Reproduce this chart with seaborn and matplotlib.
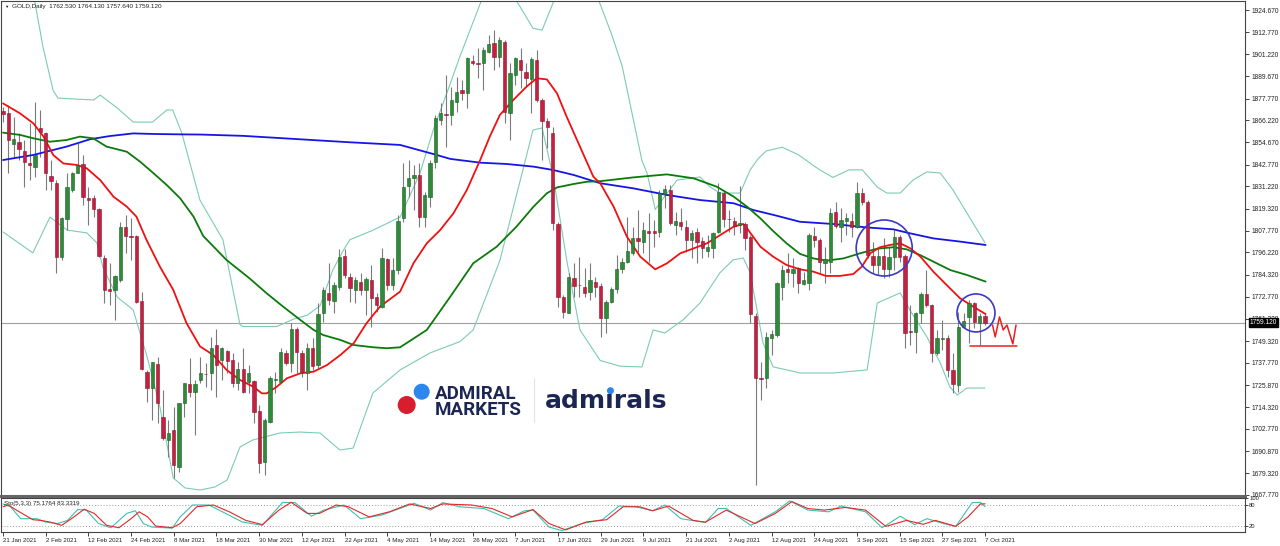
import numpy as np
import pandas as pd
import matplotlib
matplotlib.use('Agg')
import matplotlib.pyplot as plt
from matplotlib.patches import Circle
import matplotlib.transforms as mtransforms
import seaborn as sns

# daily candles, 21 Jan 2021 .. 7 Oct 2021
opens = [1871.3, 1869.9, 1853.7, 1854.9, 1850.0, 1843.8, 1841.7, 1862.0, 1859.7, 1836.7,
         1833.2, 1794.0, 1813.8, 1829.3, 1838.5, 1843.1, 1825.1, 1825.3, 1819.1, 1793.5,
         1776.7, 1776.4, 1781.6, 1809.5, 1805.1, 1805.1, 1770.5, 1732.7, 1724.6, 1737.2,
         1709.3, 1696.9, 1702.2, 1682.8, 1716.3, 1726.6, 1722.5, 1728.7, 1731.8, 1732.2,
         1747.2, 1739.3, 1744.0, 1739.3, 1726.9, 1734.3, 1727.8, 1728.3, 1712.3, 1685.4,
         1706.6, 1728.7, 1727.8, 1742.8, 1737.8, 1755.5, 1743.2, 1732.2, 1745.5, 1736.6,
         1764.0, 1774.6, 1770.7, 1778.1, 1794.4, 1783.4, 1776.3, 1780.8, 1776.3, 1781.6,
         1772.8, 1767.5, 1792.6, 1779.0, 1786.9, 1814.3, 1831.5, 1835.5, 1837.3, 1815.2,
         1825.8, 1844.3, 1866.4, 1869.6, 1869.1, 1876.1, 1882.3, 1880.5, 1897.8, 1896.4,
         1896.4, 1902.6, 1907.4, 1899.6, 1907.7, 1870.3, 1890.2, 1898.2, 1892.0, 1887.9,
         1898.2, 1877.0, 1866.0, 1859.3, 1811.1, 1772.8, 1764.3, 1782.5, 1779.0, 1778.1,
         1775.5, 1780.4, 1778.5, 1761.3, 1770.2, 1776.7, 1787.3, 1791.4, 1795.8, 1803.7,
         1801.9, 1807.6, 1807.6, 1807.3, 1827.2, 1829.3, 1810.8, 1812.6, 1809.5, 1802.8,
         1806.9, 1802.5, 1797.2, 1798.4, 1807.3, 1827.6, 1814.0, 1813.1, 1810.8, 1811.3,
         1804.6, 1762.6, 1729.7, 1729.6, 1750.7, 1752.5, 1778.1, 1787.5, 1785.2, 1787.8,
         1779.5, 1779.9, 1805.1, 1802.8, 1790.8, 1791.4, 1817.9, 1809.5, 1813.1, 1813.1,
         1809.5, 1827.9, 1823.1, 1794.3, 1789.6, 1794.3, 1787.3, 1793.7, 1804.3, 1794.3,
         1754.5, 1754.3, 1764.0, 1774.2, 1768.4, 1743.2, 1750.6, 1750.8, 1734.0, 1726.0,
         1756.9, 1762.2, 1769.6, 1759.1, 1762.53]
highs = [1873.5, 1874.3, 1868.2, 1859.3, 1855.8, 1864.6, 1876.1, 1871.7, 1860.2, 1845.2,
         1834.6, 1815.2, 1838.2, 1839.0, 1854.0, 1847.9, 1831.1, 1826.7, 1819.6, 1794.9,
         1790.5, 1784.3, 1812.5, 1816.1, 1814.3, 1805.5, 1775.5, 1734.0, 1738.4, 1741.0,
         1723.4, 1707.5, 1714.6, 1716.3, 1726.9, 1740.2, 1728.7, 1741.0, 1737.5, 1751.6,
         1755.5, 1746.3, 1744.6, 1742.8, 1738.4, 1745.5, 1736.6, 1728.7, 1715.4, 1708.4,
         1730.8, 1733.1, 1745.5, 1744.6, 1758.7, 1757.0, 1744.6, 1748.1, 1750.7, 1769.6,
         1778.1, 1790.5, 1780.8, 1797.9, 1797.9, 1785.2, 1783.4, 1785.2, 1783.4, 1789.6,
         1774.6, 1798.4, 1793.1, 1793.1, 1816.0, 1843.5, 1845.2, 1842.6, 1843.5, 1828.4,
         1845.2, 1869.1, 1875.2, 1890.2, 1884.1, 1889.4, 1887.6, 1900.0, 1900.8, 1904.4,
         1905.3, 1911.4, 1914.1, 1910.5, 1908.8, 1896.4, 1900.0, 1904.4, 1896.4, 1900.0,
         1903.5, 1877.9, 1867.3, 1862.9, 1812.5, 1773.7, 1785.2, 1790.5, 1794.0, 1787.8,
         1790.5, 1783.4, 1779.9, 1771.1, 1778.1, 1794.9, 1793.1, 1815.2, 1809.9, 1818.7,
         1812.5, 1817.0, 1813.4, 1829.3, 1832.0, 1832.0, 1817.9, 1819.6, 1813.4, 1808.1,
         1809.0, 1804.6, 1805.5, 1807.3, 1832.9, 1829.3, 1818.7, 1815.2, 1831.4, 1812.6,
         1805.5, 1764.0, 1738.4, 1754.3, 1755.2, 1780.8, 1789.6, 1795.8, 1793.1, 1788.7,
         1786.1, 1806.4, 1809.9, 1803.7, 1799.3, 1819.6, 1823.1, 1819.6, 1817.0, 1817.0,
         1833.7, 1830.2, 1824.0, 1801.9, 1798.4, 1803.7, 1799.3, 1808.1, 1805.5, 1795.4,
         1768.4, 1764.9, 1775.5, 1786.9, 1768.9, 1755.2, 1760.5, 1752.5, 1742.8, 1764.9,
         1764.0, 1771.1, 1770.2, 1764.0, 1764.13]
lows = [1865.5, 1838.2, 1847.0, 1845.2, 1831.1, 1834.6, 1836.4, 1847.0, 1829.3, 1829.3,
        1785.2, 1792.2, 1808.1, 1828.4, 1838.2, 1821.4, 1810.8, 1815.2, 1794.0, 1769.3,
        1768.4, 1760.5, 1780.8, 1795.8, 1792.2, 1769.3, 1734.0, 1717.2, 1707.5, 1705.7,
        1696.9, 1688.1, 1676.6, 1680.1, 1709.3, 1719.8, 1699.5, 1726.9, 1725.2, 1723.4,
        1719.8, 1728.7, 1732.2, 1725.1, 1723.4, 1721.6, 1721.6, 1705.7, 1679.2, 1678.3,
        1705.7, 1721.6, 1726.9, 1736.6, 1733.1, 1732.2, 1730.4, 1723.4, 1734.0, 1734.9,
        1759.6, 1768.4, 1764.0, 1776.3, 1782.5, 1770.2, 1769.3, 1773.7, 1763.1, 1757.0,
        1764.9, 1766.6, 1776.3, 1776.3, 1785.0, 1812.6, 1825.8, 1818.7, 1809.9, 1809.9,
        1820.5, 1840.8, 1863.8, 1852.3, 1863.8, 1870.8, 1877.0, 1872.6, 1895.5, 1888.5,
        1882.3, 1902.1, 1892.9, 1894.7, 1864.6, 1855.8, 1884.9, 1883.2, 1884.1, 1869.9,
        1876.1, 1845.2, 1851.4, 1808.1, 1767.5, 1761.4, 1764.0, 1772.8, 1772.8, 1772.8,
        1771.0, 1772.8, 1751.6, 1753.4, 1769.3, 1774.6, 1785.2, 1790.5, 1794.9, 1796.7,
        1795.8, 1791.4, 1799.3, 1804.6, 1819.6, 1810.8, 1805.5, 1808.1, 1796.7, 1793.1,
        1790.5, 1793.1, 1794.0, 1793.1, 1806.4, 1809.9, 1807.3, 1805.5, 1806.4, 1797.5,
        1758.7, 1673.1, 1718.1, 1724.3, 1741.9, 1751.6, 1771.1, 1779.9, 1778.1, 1774.6,
        1779.0, 1776.3, 1799.3, 1785.2, 1779.9, 1785.2, 1809.0, 1802.0, 1805.5, 1804.6,
        1809.0, 1821.4, 1793.1, 1785.2, 1784.3, 1782.5, 1783.4, 1786.9, 1791.4, 1745.5,
        1747.2, 1742.8, 1758.7, 1767.5, 1738.4, 1741.9, 1744.6, 1730.4, 1721.6, 1722.5,
        1756.6, 1748.1, 1756.1, 1747.2, 1757.64]
closes = [1869.6, 1855.8, 1856.2, 1850.9, 1844.3, 1842.6, 1847.9, 1860.2, 1838.2, 1834.3,
          1794.0, 1814.7, 1830.7, 1838.5, 1842.6, 1825.8, 1824.0, 1819.1, 1794.5, 1776.4,
          1775.8, 1783.8, 1809.9, 1805.1, 1804.6, 1770.2, 1734.3, 1724.6, 1738.4, 1716.3,
          1697.8, 1700.8, 1683.6, 1716.3, 1726.9, 1722.5, 1726.6, 1732.2, 1731.6, 1745.5,
          1736.6, 1745.5, 1738.9, 1726.9, 1734.3, 1722.1, 1732.2, 1711.9, 1684.9, 1707.5,
          1729.6, 1729.0, 1743.7, 1737.8, 1755.5, 1743.7, 1733.1, 1745.5, 1736.1, 1763.6,
          1776.3, 1771.0, 1779.0, 1794.0, 1784.3, 1777.2, 1781.6, 1776.3, 1782.0, 1771.9,
          1768.4, 1793.1, 1779.0, 1786.9, 1813.0, 1831.1, 1835.5, 1837.3, 1815.2, 1826.7,
          1843.5, 1867.3, 1869.9, 1869.1, 1877.0, 1881.4, 1880.9, 1899.1, 1896.4, 1896.2,
          1903.5, 1906.7, 1900.0, 1908.8, 1870.8, 1891.1, 1899.1, 1892.9, 1888.5, 1898.5,
          1877.0, 1866.0, 1862.9, 1811.7, 1772.8, 1764.9, 1783.4, 1778.5, 1778.8, 1774.9,
          1781.7, 1778.1, 1761.3, 1770.2, 1776.7, 1787.3, 1791.4, 1797.2, 1803.7, 1802.3,
          1808.1, 1806.4, 1806.4, 1827.6, 1829.7, 1811.7, 1813.1, 1810.3, 1802.8, 1806.4,
          1802.0, 1798.4, 1799.0, 1806.7, 1828.4, 1813.8, 1813.8, 1810.3, 1812.0, 1803.7,
          1763.6, 1729.6, 1729.4, 1751.6, 1752.9, 1779.9, 1787.0, 1786.1, 1787.5, 1779.9,
          1781.6, 1805.5, 1802.8, 1791.4, 1792.6, 1817.0, 1810.3, 1813.4, 1814.3, 1809.9,
          1827.6, 1823.1, 1794.9, 1789.6, 1794.3, 1787.3, 1794.0, 1804.6, 1793.7, 1753.4,
          1754.1, 1764.4, 1774.2, 1768.4, 1743.2, 1750.8, 1751.0, 1734.0, 1726.6, 1756.9,
          1760.1, 1769.3, 1759.6, 1762.6, 1759.12]

tick_labels = ['21 Jan 2021', '2 Feb 2021', '12 Feb 2021', '24 Feb 2021', '8 Mar 2021',
               '18 Mar 2021', '30 Mar 2021', '12 Apr 2021', '22 Apr 2021', '4 May 2021',
               '14 May 2021', '26 May 2021', '7 Jun 2021', '17 Jun 2021', '29 Jun 2021',
               '9 Jul 2021', '21 Jul 2021', '2 Aug 2021', '12 Aug 2021', '24 Aug 2021',
               '3 Sep 2021', '15 Sep 2021', '27 Sep 2021', '7 Oct 2021']
price_ticks = [1924.67, 1912.77, 1901.22, 1889.67, 1877.77, 1866.22, 1854.67, 1842.77,
               1831.22, 1819.32, 1807.77, 1796.22, 1784.32, 1772.77, 1761.22, 1749.32,
               1737.77, 1725.87, 1714.32, 1702.77, 1690.87, 1679.32, 1667.77]
last_price = 1759.12

# indicator lines, read at points along each curve (x = candle number)
ma_fast_x = [0, 3.2, 5.7, 7.6, 9.4, 11.3, 13.8, 15.7, 18.2, 20.7, 23.2, 25, 26.9, 29.4, 31.9,
             34.4, 36.9, 39.4, 41.9, 44.4, 46.9, 48.5, 49.4, 51.3, 53.2, 55.7, 58.2, 60.7,
             63.2, 65.7, 68.1, 70.6, 74.4, 76.9, 79.4, 81.9, 84.4, 86.9, 89.4, 91.2, 93.1,
             95.6, 98.1, 100, 101.9, 103.8, 105.6, 108.1, 110.6, 111.9, 114.4, 116.9, 119.4,
             122.2, 124.4, 126.9, 129.4, 131.9, 134.4, 136.9, 138.7, 139.4, 141.9, 144.3,
             146.8, 149.3, 151.8, 154.2, 156.8, 159.3, 160.9, 162.5, 164.3, 166.2, 168.1,
             170, 171.9, 174.3, 176.8, 179.3, 181.8, 184.1]
ma_fast_y = [1875.2, 1869.9, 1864.6, 1857.6, 1847.9, 1843.4, 1842.6, 1840.8, 1834.6, 1825.8,
             1820.5, 1815.2, 1802.8, 1788.7, 1776.4, 1758.7, 1746.5, 1741.9, 1734.0, 1728.7,
             1725.1, 1721.6, 1721.6, 1725.1, 1729.6, 1732.2, 1733.1, 1736.6, 1741.9, 1748.1,
             1758.7, 1767.5, 1775.5, 1790.5, 1801.1, 1808.1, 1817.0, 1829.3, 1845.2, 1857.6,
             1869.1, 1877.0, 1884.1, 1888.5, 1887.9, 1880.5, 1868.2, 1852.3, 1836.4, 1832.9,
             1820.5, 1804.6, 1794.0, 1787.3, 1790.5, 1795.8, 1798.4, 1801.1, 1805.5, 1809.9,
             1811.3, 1809.0, 1799.3, 1794.0, 1789.6, 1787.3, 1786.1, 1783.8, 1783.8, 1784.8,
             1788.7, 1795.8, 1799.0, 1800.2, 1801.1, 1798.4, 1794.0, 1786.1, 1779.0, 1772.0,
             1767.5, 1763.6]
ma_mid_x = [0, 3.2, 5.7, 8.8, 11.9, 14.4, 16.9, 19.4, 23.2, 25.7, 28.2, 30.7, 33.2, 35.7,
            37.5, 41.9, 46.2, 49.4, 52.5, 55.7, 58.2, 60, 63.2, 65.7, 69.4, 71.9, 74.4, 79.4,
            83.8, 88.1, 92.5, 96.2, 99.4, 101.9, 103.8, 106.9, 109.4, 111.9, 118.1, 124.4,
            129.4, 133.7, 136.9, 139.4, 141.9, 144.4, 146.8, 149.3, 151.8, 154.3, 157.5,
            160.6, 163.7, 166.8, 169.3, 171.8, 174.3, 177.5, 180.6, 184.1]
ma_mid_y = [1859.7, 1858.5, 1856.7, 1854.9, 1855.8, 1857.6, 1856.7, 1852.3, 1849.6, 1844.3,
            1838.2, 1831.9, 1824.9, 1815.2, 1805.0, 1792.2, 1782.5, 1774.6, 1767.5, 1760.5,
            1755.2, 1752.5, 1749.9, 1747.2, 1746.0, 1745.5, 1746.0, 1755.2, 1772.8, 1790.5,
            1799.3, 1809.9, 1820.5, 1827.6, 1830.7, 1832.5, 1833.7, 1834.0, 1836.0, 1837.6,
            1835.5, 1831.1, 1825.8, 1820.5, 1814.3, 1807.3, 1801.1, 1795.5, 1793.1, 1791.9,
            1793.1, 1795.8, 1798.2, 1799.0, 1797.9, 1794.9, 1791.4, 1786.9, 1784.3, 1780.8]
ma_slow_x = [0, 5.7, 11.9, 16.3, 20, 24.4, 28.2, 33.2, 37, 45, 55, 65, 74.4, 80.6, 83.8, 89.4,
             94.4, 99.4, 103.1, 106.9, 111.9, 118.1, 124.4, 130.6, 136.9, 140.6, 144.4, 149.3,
             155.6, 161.8, 166.8, 169.9, 174.3, 179.3, 184.1]
ma_slow_y = [1845.2, 1847.9, 1852.3, 1856.2, 1857.9, 1859.3, 1859.0, 1858.8, 1858.7, 1858.0,
             1856.3, 1854.6, 1853.2, 1848.4, 1845.8, 1843.8, 1843.1, 1841.7, 1839.9, 1837.3,
             1832.9, 1830.2, 1826.7, 1824.0, 1822.3, 1818.7, 1816.1, 1812.5, 1811.3, 1809.5,
             1808.5, 1806.4, 1803.7, 1802.0, 1800.2]
bb_up_x = [0, 3, 5.9, 7.5, 9.4, 10.3, 17, 18.2, 21.4, 24.4, 28, 30.7, 31.8, 33.5, 36.9, 41.2,
           44.4, 45, 51.3, 54.5, 57, 59.4, 61.8, 63.7, 65, 69.3, 74.4, 78.1, 80.6, 83.2, 85.6,
           87.5, 89, 91, 93, 95, 97.4, 99.3, 101, 103, 105, 108, 110, 112, 114, 116, 118,
           119.7, 120.7, 122.2, 124, 126.3, 130.6, 132.5, 134.3, 138.1, 140, 141.5, 143, 146,
           149, 152, 153, 155.5, 158.5, 161, 163.8, 165.6, 168.1, 170.5, 173.1, 175.6, 178,
           180.6, 184]
bb_up_y = [1950, 1945, 1930, 1905, 1882, 1878, 1877, 1879.6, 1872.8, 1865.3, 1865.3, 1871.7,
           1871.7, 1859.5, 1824, 1803, 1758, 1757, 1757, 1761, 1763, 1768, 1787, 1797, 1803,
           1808, 1815, 1838, 1861, 1881, 1900, 1914, 1925, 1940, 1946, 1935, 1924, 1915, 1914,
           1928, 1950, 1949, 1940, 1927, 1912, 1895, 1868, 1845, 1838, 1819, 1826, 1834.6,
           1836.2, 1830.9, 1827.7, 1827.7, 1840, 1846, 1850, 1852, 1848, 1842, 1840, 1836,
           1840, 1840, 1830.9, 1827.7, 1827.7, 1834.6, 1838.9, 1838.3, 1829.3, 1817.1, 1801.3]
bb_lo_x = [0, 5.6, 8.8, 12, 15.7, 17.6, 18.7, 21.4, 24.4, 27, 29.4, 31.9, 34.1, 36.9, 39.7, 42,
           44.4, 46.8, 51.9, 55.6, 59.4, 63.1, 65.6, 69.3, 74.4, 80, 85.6, 88.1, 93.1, 97.4,
           99.3, 101, 103.1, 105.7, 108.1, 111.9, 115.6, 119.7, 121.8, 124, 127.4, 130.6,
           134.3, 136.8, 138.7, 140, 142.4, 144.3, 146.9, 149.3, 155.5, 161.9, 163.8, 168.1,
           169.9, 173.1, 175.6, 177.4, 178.8, 180.6, 184]
bb_lo_y = [1807.1, 1796.0, 1815.0, 1808.1, 1806.6, 1801.3, 1788.5, 1772.6, 1765.8, 1740.9,
           1714.4, 1676.8, 1671.5, 1670.4, 1672.0, 1675.7, 1693.2, 1696.9, 1700.6, 1701.1,
           1700.6, 1691.6, 1692.6, 1721.8, 1734.0, 1743.0, 1749.0, 1755.2, 1792.0, 1839.9,
           1861.1, 1862.2, 1836.2, 1790.7, 1755.2, 1739.0, 1736.0, 1735.6, 1755.2, 1753.6,
           1760.5, 1769.5, 1785.4, 1792.3, 1793.3, 1785.4, 1748.3, 1735.6, 1734.0, 1732.4,
           1732.4, 1734.0, 1769.5, 1774.8, 1765.8, 1751.5, 1737.7, 1725.0, 1720.7, 1724.4,
           1724.4]

# stochastic (5,3,3)
sto_k_x = [0, 1.4, 3.3, 6.3, 7.9, 10.2, 12.1, 14, 15.6, 17.9, 20.2, 23.2, 24.8, 26.3, 27.9,
           31.7, 33.2, 35.5, 38.6, 41.7, 44.8, 48.6, 52.4, 54.7, 57.8, 60.1, 63.9, 67, 70.9,
           77, 80.1, 82.4, 85.5, 90.1, 94.7, 97.7, 99.3, 102.3, 104.7, 108.5, 112.3, 115.4,
           118.5, 121.7, 124, 127, 131.6, 134, 135.5, 140.1, 144.7, 147.4, 150.8, 154.7, 157,
           161.6, 164.7, 168.1, 170.8, 173.1, 176.2, 178.5, 181.6, 183.1, 184]
sto_k_y = [83, 75, 41, 41, 31.6, 27, 36, 67, 65.5, 27, 15, 56, 63.5, 27, 17, 14, 46, 80, 80,
           56, 31.6, 22, 87.7, 86.8, 48, 65.5, 80, 41, 51, 84.8, 65.5, 86.8, 75, 70, 41, 63.5,
           65.5, 17, 7, 27, 38, 77, 75, 63.5, 80, 41, 30, 70, 70, 22, 60.6, 91.6, 65.5, 60.6,
           77, 60.6, 15, 48, 24, 41, 27, 19, 86.8, 87.7, 75.18]
sto_d_x = [0, 1, 2.5, 5.6, 7.1, 8.7, 11, 13.3, 15.2, 17.1, 19.4, 21.7, 24, 25.5, 27.1, 28.6,
           31.7, 33.2, 36.3, 39.4, 42.4, 45.5, 48.6, 51.7, 54, 57, 59.3, 62.4, 64.7, 68.6,
           72.4, 76.2, 80.1, 82.4, 87.8, 91.6, 95.4, 99.3, 102.3, 105.4, 109.3, 113.1, 116.2,
           119.3, 121.7, 124.7, 129.3, 131.6, 135.5, 140.9, 144.7, 147.8, 150.8, 153.9, 157.8,
           161.6, 165.4, 169.3, 172.4, 174.7, 178.5, 180.8, 183.1, 184]
sto_d_y = [75, 80, 65.5, 38, 36, 31.6, 22, 46, 68, 56, 22, 15, 41, 60.6, 46, 20, 15, 27, 75,
           80, 60.6, 36, 24, 65.5, 87.7, 56, 56, 80, 75, 46, 60.6, 83, 70, 83, 80, 70, 46, 67,
           27, 9, 31.6, 38, 75, 75, 63.5, 77, 36, 31, 65.5, 27, 56, 89.7, 70, 65.5, 73, 65.5,
           19, 36, 25, 36, 19, 46, 83, 83.33]

# hand drawn marks on the right
zig_x = [185.4, 185.9, 186.7, 187.4, 188.1, 189.2, 189.8]
zig_y = [1757.8, 1751.5, 1762.1, 1755.2, 1757.8, 1747.8, 1757.8]
support_x = [181.1, 189.9]
support_y = [1746.9, 1746.9]
circle_x = [165.1, 182.3]
circle_y = [1798.6, 1764.2]
circle_px = [56, 38]

sns.set_theme(style='white')
plt.rcParams['font.family'] = ['Liberation Sans', 'DejaVu Sans']

W, H = 1280, 546
fig = plt.figure(figsize=(W / 100, H / 100), dpi=100)


def box(x0, y0, x1, y1):
    return [x0 / W, 1 - y1 / H, (x1 - x0) / W, (y1 - y0) / H]


ax = fig.add_axes(box(1, 1, 1245, 496))
ax2 = fig.add_axes(box(1, 498, 1245, 532))

df = pd.DataFrame({'open': opens, 'high': highs, 'low': lows, 'close': closes})
df['n'] = np.arange(len(df))
up = df['close'] >= df['open']
body_lo = df[['open', 'close']].min(axis=1)
body_h = (df['close'] - df['open']).abs().clip(lower=0.35)

# bands and averages
sns.lineplot(x=bb_up_x, y=bb_up_y, ax=ax, color='#7ccbb6', linewidth=0.8, estimator=None, sort=False)
sns.lineplot(x=bb_lo_x, y=bb_lo_y, ax=ax, color='#7ccbb6', linewidth=0.8, estimator=None, sort=False)
ax.axhline(last_price, color='#a0a0a0', linewidth=0.8, zorder=1)

ax.vlines(df['n'], df['low'], df['high'], color='#7a7a7a', linewidth=0.8, zorder=2)
ax.bar(df['n'], body_h, bottom=body_lo, width=0.62,
       color=np.where(up, '#2e8b3a', '#c42040'),
       edgecolor=np.where(up, '#1d5e25', '#8a1630'), linewidth=0.4, zorder=3)

sns.lineplot(x=ma_slow_x, y=ma_slow_y, ax=ax, color='#1515e6', linewidth=1.3, estimator=None, sort=False)
sns.lineplot(x=ma_mid_x, y=ma_mid_y, ax=ax, color='#0b7a0b', linewidth=1.3, estimator=None, sort=False)
sns.lineplot(x=ma_fast_x, y=ma_fast_y, ax=ax, color='#f01010', linewidth=1.3, estimator=None, sort=False)

for cx, cy, d in zip(circle_x, circle_y, circle_px):
    ax.scatter([cx], [cy], s=(d * 0.72) ** 2, facecolors='none', edgecolors='#3a3ac4',
               linewidths=1.2, zorder=6)
ax.plot(zig_x, zig_y, color='#e82020', linewidth=1.1, zorder=6)
ax.plot(support_x, support_y, color='#e82020', linewidth=1.1, zorder=6)

ax.set_xlim(-0.375, 232.7)
ax.set_ylim(1667.23, 1929.44)
ax.set_xticks([])
ax.yaxis.tick_right()
ax.set_yticks(price_ticks)
ax.set_yticklabels([f'{v:.3f}' for v in price_ticks])
ax.tick_params(axis='y', length=3, width=0.6, labelsize=4.8, pad=1.5, colors='#222222', right=True)
for s in ax.spines.values():
    s.set_color('#444444')
    s.set_linewidth(0.8)
ax.spines['bottom'].set_linewidth(2.2)
ax.spines['bottom'].set_color('#666666')

blend = mtransforms.blended_transform_factory(ax.transAxes, ax.transData)
ax.text(1.0035, last_price, f'{last_price:.3f}', transform=blend, color='white', fontsize=4.8,
        va='center', ha='left', zorder=10, clip_on=False,
        bbox=dict(boxstyle='square,pad=0.12', fc='black', ec='black'))

fig.text(4 / W, 1 - 6.5 / H, '\u25bc', fontsize=3.2, va='center', color='#222222')
fig.text(12 / W, 1 - 6.5 / H, 'GOLD,Daily  1762.530 1764.130 1757.640 1759.120',
         fontsize=4.6, va='center', color='#222222')

# stochastic panel
ax2.axhline(80, color='#9a9a9a', linewidth=0.7, linestyle=(0, (1, 2)))
ax2.axhline(20, color='#9a9a9a', linewidth=0.7, linestyle=(0, (1, 2)))
sns.lineplot(x=sto_k_x, y=sto_k_y, ax=ax2, color='#3fbfae', linewidth=0.8, estimator=None, sort=False)
sns.lineplot(x=sto_d_x, y=sto_d_y, ax=ax2, color='#e02828', linewidth=0.8, estimator=None, sort=False)
ax2.set_xlim(-0.375, 232.7)
ax2.set_ylim(2.9, 100)
ax2.yaxis.tick_right()
ax2.set_yticks([100, 80, 20])
ax2.set_yticklabels(['100', '80', '20'])
ax2.tick_params(axis='y', length=2, width=0.6, labelsize=4.2, pad=1, colors='#222222', right=True)
ax2.set_xticks(list(range(0, len(df), 8)))
ax2.set_xticklabels(tick_labels)
ax2.tick_params(axis='x', length=3, width=0.6, labelsize=4.4, pad=1, colors='#222222', bottom=True)
for lab in ax2.get_xticklabels():
    lab.set_ha('left')
for s in ax2.spines.values():
    s.set_color('#444444')
    s.set_linewidth(0.8)
fig.text(4 / W, 1 - 503 / H, 'Sto(5,3,3) 75.1764 83.3319', fontsize=4.4, va='center',
         color='#222222')

# logo
inch = fig.dpi_scale_trans
fig.add_artist(Circle((421.7 / 100, (H - 391.7) / 100), 0.073, transform=inch, color='#2b86ee'))
fig.add_artist(Circle((406.7 / 100, (H - 405) / 100), 0.083, transform=inch, color='#d81e2c'))
navy = '#1c2653'
fig.text(435 / W, 1 - 399.3 / H, 'ADMIRAL', fontsize=13.5, fontweight='bold', family='Roboto',
         color=navy, va='baseline')
fig.text(435 / W, 1 - 415 / H, 'MARKETS', fontsize=13.5, fontweight='bold', family='Roboto',
         color=navy, va='baseline')
fig.add_artist(plt.Line2D([534 / W, 534 / W], [1 - 378 / H, 1 - 422 / H], color='#e4e4e4',
                          linewidth=0.8))
word = fig.text(545 / W, 1 - 408.3 / H, 'adm\u0131rals', fontsize=18, fontweight='bold',
                family='DejaVu Sans', color=navy, va='baseline')
rend = fig.canvas.get_renderer()
pre = fig.text(545 / W, 1 - 408.3 / H, 'adm', fontsize=18, fontweight='bold',
               family='DejaVu Sans', va='baseline')
pre2 = fig.text(545 / W, 1 - 408.3 / H, 'adm\u0131', fontsize=18, fontweight='bold',
                family='DejaVu Sans', va='baseline')
e1 = pre.get_window_extent(rend)
e2 = pre2.get_window_extent(rend)
pre.remove()
pre2.remove()
dot_x = (e1.x1 + e2.x1) / 2
fig.add_artist(Circle((dot_x / 100, (H - 390.7) / 100), 0.028, transform=inch, color='#2b86ee'))

fig.savefig('out.png', dpi=100, facecolor='white')
